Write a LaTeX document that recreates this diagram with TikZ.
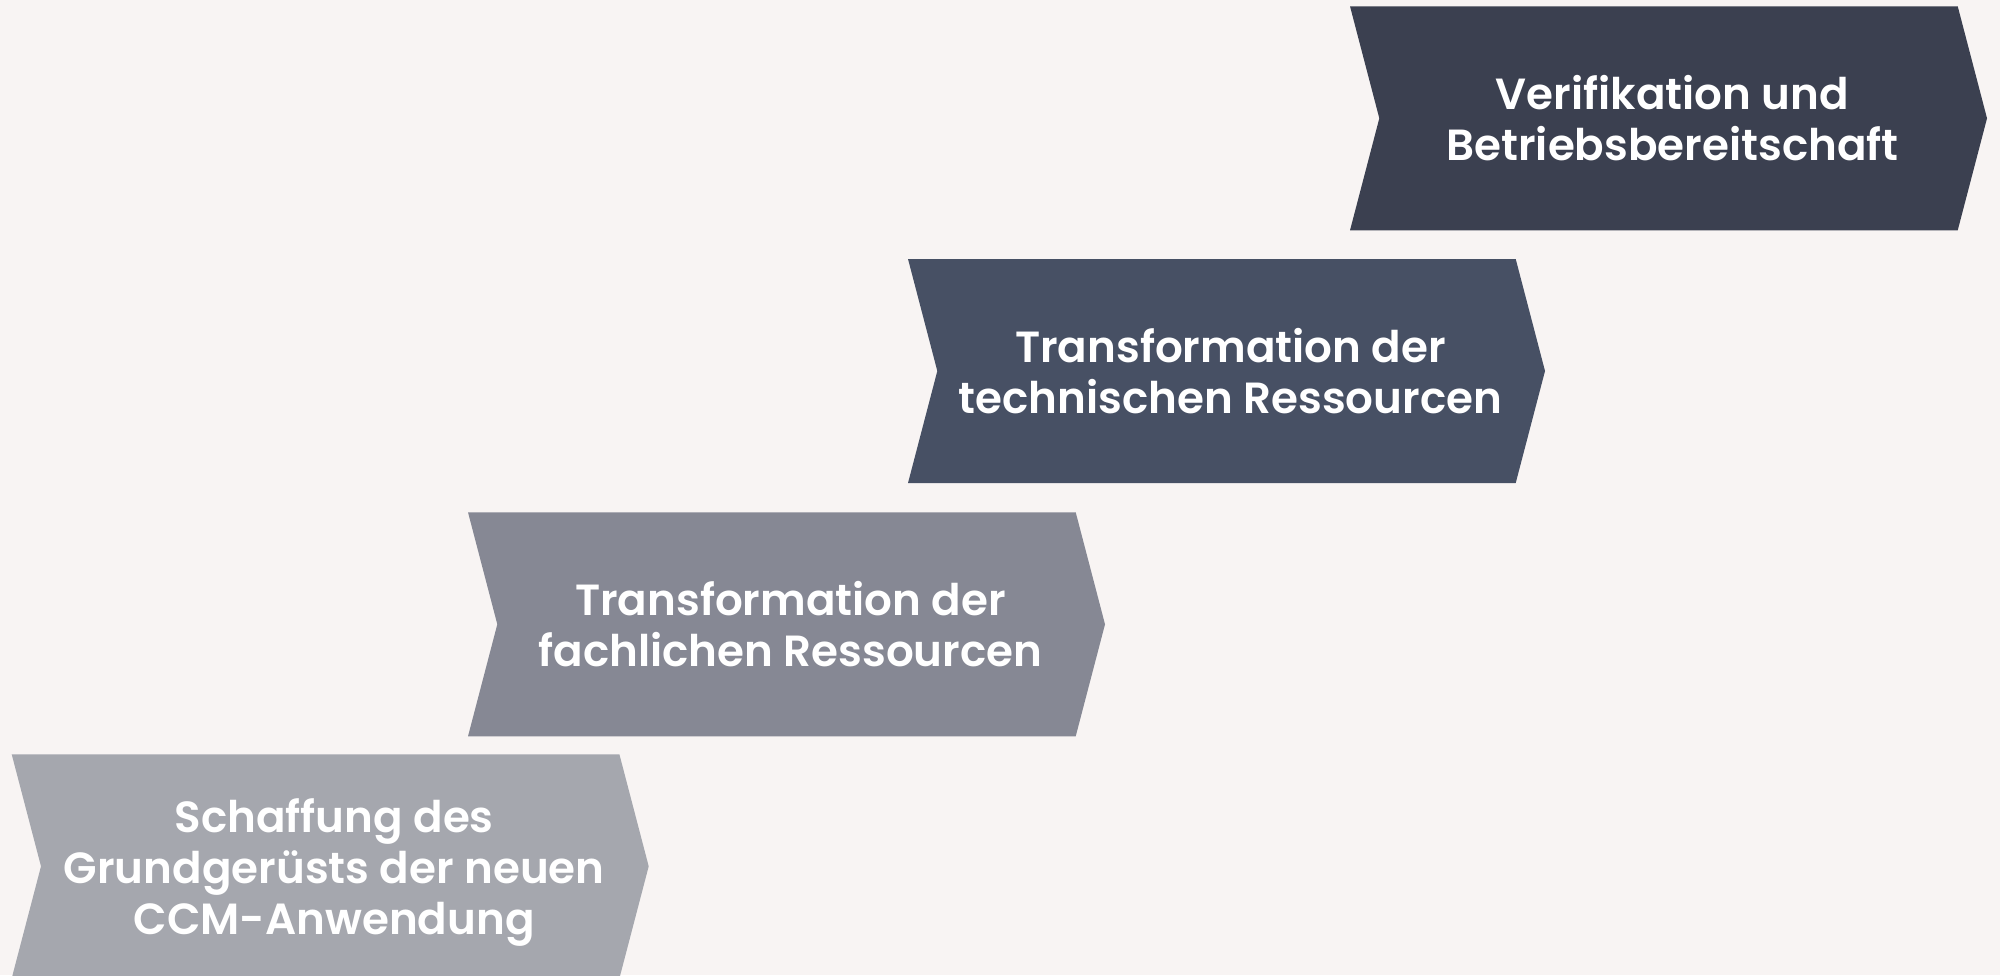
\documentclass[tikz,border=0pt]{standalone}
\usepackage{fontspec}
\setmainfont{Poppins}
\newfontfamily\labelfont{Poppins SemiBold}
\definecolor{bgc}{HTML}{F8F4F3}
\definecolor{cA}{HTML}{A5A7AE}
\definecolor{cB}{HTML}{868894}
\definecolor{cC}{HTML}{475064}
\definecolor{cD}{HTML}{3B4050}
\tikzset{
  chevfill/.style={fill=#1, draw=none},
  chevtext/.style={text=white, align=center, font=\labelfont\fontsize{21.8}{25.5}\selectfont, inner sep=0pt, text depth=0pt},
}
% #1 name, #2 left x, #3 top y, #4 colour, #5 text
\newcommand\chevstep[5]{%
  \fill[chevfill=#4] (#2,#3) -- ++(607.7,0) -- ++(29.3,112) -- ++(-29.3,112) -- ++(-607.7,0) -- ++(29.3,-112) -- cycle;
  \node[chevtext] (#1) at ({#2+322.5},{#3+112}) {#5};
}
\begin{document}
\begin{tikzpicture}[x=0.5pt,y=-0.5pt]
  \fill[bgc] (0,0) rectangle (2000,975);
  \useasboundingbox (0,0) rectangle (2000,975);
  \chevstep{s1}{11.7}{754.3}{cA}{Schaffung des\\Grundgerüsts der neuen\\CCM-Anwendung}
  \chevstep{s2}{468}{512.3}{cB}{Transformation der\\fachlichen Ressourcen}
  \chevstep{s3}{908}{259}{cC}{Transformation der\\technischen Ressourcen}
  \chevstep{s4}{1350}{6.3}{cD}{Verifikation und\\Betriebsbereitschaft}
\end{tikzpicture}
\end{document}
